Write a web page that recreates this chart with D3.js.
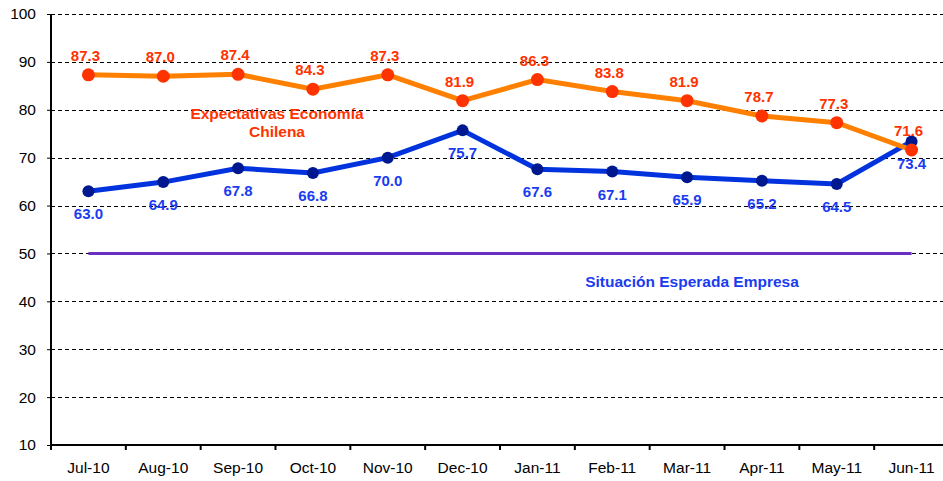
<!DOCTYPE html>
<html>
<head>
<meta charset="utf-8">
<script src="https://cdn.jsdelivr.net/npm/d3@7"></script>
<style>
  body { margin: 0; background: #fff; }
  svg { display: block; }
</style>
</head>
<body>
<div id="chart"></div>
<script>
var months = ["Jul-10", "Aug-10", "Sep-10", "Oct-10", "Nov-10", "Dec-10",
              "Jan-11", "Feb-11", "Mar-11", "Apr-11", "May-11", "Jun-11"];
var economia = [87.3, 87.0, 87.4, 84.3, 87.3, 81.9, 86.3, 83.8, 81.9, 78.7, 77.3, 71.6];
var empresa = [63.0, 64.9, 67.8, 66.8, 70.0, 75.7, 67.6, 67.1, 65.9, 65.2, 64.5, 73.4];
var neutral = [50, 50, 50, 50, 50, 50, 50, 50, 50, 50, 50, 50];
var yTicks = [10, 20, 30, 40, 50, 60, 70, 80, 90, 100];

var W = 943, H = 481;
var margin = { top: 14, right: -6, bottom: 36, left: 51 },
    width = W - margin.left - margin.right,
    height = H - margin.top - margin.bottom;

var FONT = "Liberation Sans, Arial, sans-serif";

var svg = d3.select("#chart")
    .append("svg")
    .attr("width", W)
    .attr("height", H);

var chart = svg.append("g")
    .attr("transform", "translate(" + margin.left + "," + margin.top + ")");

var xScale = d3.scaleBand()
    .domain(months)
    .range([0, width]);

var yScale = d3.scaleLinear()
    .domain([10, 100])
    .range([height, 0]);

var xc = function (i) { return xScale(months[i]) + xScale.bandwidth() / 2; };

// dashed gridlines
chart.selectAll(".grid")
    .data(yTicks.filter(function (d) { return d > 10; }))
    .enter()
    .append("line")
    .attr("x1", 0)
    .attr("x2", width)
    .attr("y1", function (d) { return Math.round(yScale(d)) + 0.5; })
    .attr("y2", function (d) { return Math.round(yScale(d)) + 0.5; })
    .attr("stroke", "#000")
    .attr("stroke-width", 1)
    .attr("stroke-dasharray", "4,3");

// y axis
var yAxis = chart.append("g")
    .call(d3.axisLeft(yScale).tickValues(yTicks).tickSize(4).tickPadding(11));
yAxis.selectAll("text")
    .attr("font-family", FONT)
    .attr("font-size", "15.5px")
    .attr("fill", "#000");
yAxis.select(".domain").attr("stroke-width", 2).attr("d", "M0,0V" + height);

// x axis
var xAxis = chart.append("g")
    .attr("transform", "translate(0," + height + ")")
    .call(d3.axisBottom(xScale).tickSize(0).tickPadding(17));
xAxis.selectAll("text")
    .attr("font-family", FONT)
    .attr("font-size", "15.5px")
    .attr("fill", "#000");
xAxis.select(".domain").attr("stroke-width", 2).attr("d", "M0,0H" + width);
xAxis.selectAll(".sep")
    .data(months)
    .enter()
    .append("line")
    .attr("x1", function (d) { return xScale(d); })
    .attr("x2", function (d) { return xScale(d); })
    .attr("y1", 0)
    .attr("y2", 5)
    .attr("stroke", "#000")
    .attr("stroke-width", 2);

var line = d3.line()
    .x(function (d, i) { return xc(i); })
    .y(function (d) { return yScale(d); });

// 50 line
chart.append("path")
    .datum(neutral)
    .attr("d", line)
    .attr("fill", "none")
    .attr("stroke", "#6b2fc4")
    .attr("stroke-width", 3);

// Situación Esperada Empresa
chart.append("path")
    .datum(empresa)
    .attr("d", line)
    .attr("fill", "none")
    .attr("stroke", "#0033dd")
    .attr("stroke-width", 5);
chart.selectAll(".dotB")
    .data(empresa)
    .enter()
    .append("circle")
    .attr("cx", function (d, i) { return xc(i); })
    .attr("cy", function (d) { return yScale(d); })
    .attr("r", 6)
    .attr("fill", "#00188f");

// Expectativas Economía Chilena
chart.append("path")
    .datum(economia)
    .attr("d", line)
    .attr("fill", "none")
    .attr("stroke", "#ff8000")
    .attr("stroke-width", 5);
chart.selectAll(".dotO")
    .data(economia)
    .enter()
    .append("circle")
    .attr("cx", function (d, i) { return xc(i); })
    .attr("cy", function (d) { return yScale(d); })
    .attr("r", 6.5)
    .attr("fill", "#ff3300");

// value labels
chart.selectAll(".lblO")
    .data(economia)
    .enter()
    .append("text")
    .attr("x", function (d, i) { return xc(i) - 3; })
    .attr("y", function (d) { return yScale(d) - 14; })
    .attr("text-anchor", "middle")
    .attr("font-family", FONT)
    .attr("font-weight", "bold")
    .attr("font-size", "15px")
    .attr("fill", "#ff3300")
    .text(function (d) { return d3.format(".1f")(d); });

chart.selectAll(".lblB")
    .data(empresa)
    .enter()
    .append("text")
    .attr("x", function (d, i) { return xc(i); })
    .attr("y", function (d) { return yScale(d) + 28; })
    .attr("text-anchor", "middle")
    .attr("font-family", FONT)
    .attr("font-weight", "bold")
    .attr("font-size", "15px")
    .attr("fill", "#1a3cf0")
    .text(function (d) { return d3.format(".1f")(d); });

// series names
var nameO = svg.append("text")
    .attr("text-anchor", "middle")
    .attr("font-family", FONT)
    .attr("font-weight", "bold")
    .attr("font-size", "15.5px")
    .attr("fill", "#ff3300");
nameO.append("tspan").attr("x", 277).attr("y", 119).text("Expectativas Economía");
nameO.append("tspan").attr("x", 277).attr("y", 137).text("Chilena");

svg.append("text")
    .attr("x", 692)
    .attr("y", 287)
    .attr("text-anchor", "middle")
    .attr("font-family", FONT)
    .attr("font-weight", "bold")
    .attr("font-size", "15.5px")
    .attr("fill", "#1a3cf0")
    .text("Situación Esperada Empresa");
</script>
</body>
</html>
